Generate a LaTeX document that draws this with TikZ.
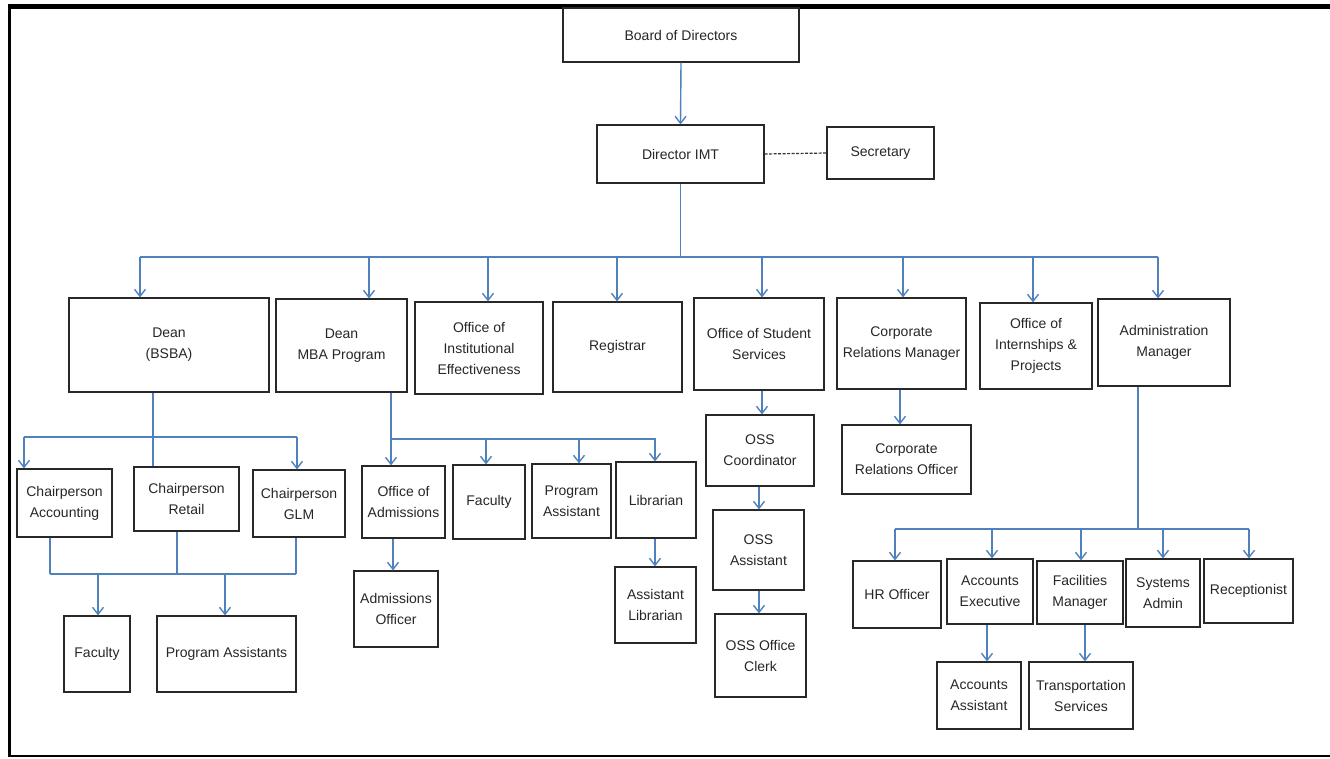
\documentclass[tikz,border=0pt]{standalone}
\usepackage{fontspec}
\setmainfont{Liberation Sans}
\usetikzlibrary{arrows.meta}
\definecolor{conncol}{RGB}{79,129,189}
\definecolor{boxcol}{RGB}{40,40,40}
\tikzset{
  box/.style={draw=boxcol, line width=1.2pt, inner sep=0pt, align=center,
    font=\fontsize{14}{21}\selectfont, text=black!85},
  conn/.style={draw=conncol, line width=1.4pt},
  arr/.style={conn, -{Straight Barb[length=7pt,width=11pt,line width=1.4pt]}},
}
\newcommand\bx[6]{\node[box, minimum width={(#4-#2)*1pt}, minimum height={(#5-#3)*1pt}] (#1) at ({(#2+#4)/2},{(#3+#5)/2}) {#6};}
\begin{document}
\begin{tikzpicture}[x=1pt,y=-1pt]
\useasboundingbox (0,0) rectangle (1330,758);
% frame
\draw[line width=5pt] (8,6.5) -- (1330,6.5);
\draw[line width=3pt] (9.5,6) -- (9.5,756.5);
\draw[line width=2pt] (8,756) -- (1330,756);

% top
\bx{bod}{563}{8}{799}{62}{Board of Directors}
\bx{dir}{597}{125}{764}{183}{Director IMT}
\bx{sec}{827}{127}{934}{179}{Secretary}
\draw[arr] (bod.south) -- (dir.north);
\draw[draw=black!80, line width=1.2pt, dash pattern=on 3pt off 1.5pt] (dir.east) -- (sec.west);

% level 2
\bx{dean1}{69}{298}{269}{392}{Dean\\(BSBA)}
\bx{dean2}{276}{299}{407}{392}{Dean\\MBA Program}
\bx{oie}{415}{302}{543}{394}{Office of\\Institutional\\Effectiveness}
\bx{reg}{553}{302}{682}{392}{Registrar}
\bx{oss}{694}{298}{824}{390}{Office of Student\\Services}
\bx{crm}{837}{298}{966}{389}{Corporate\\Relations Manager}
\bx{oip}{980}{303}{1092}{389}{Office of\\Internships \&\\Projects}
\bx{adm}{1098}{299}{1230}{386}{Administration\\Manager}

\coordinate (dtr) at (dir.south |- 0,257);
\coordinate (bL) at (140,257);
\coordinate (bR) at (1158,257);
\draw[conn] (dir.south) -- (dtr);
\draw[conn] (bL) -- (bR);
\draw[arr] (bL) -- (140,0 |- dean1.north);
\draw[arr] (369,257) -- (369,0 |- dean2.north);
\draw[arr] (488,257) -- (488,0 |- oie.north);
\draw[arr] (617,257) -- (617,0 |- reg.north);
\draw[arr] (762,257) -- (762,0 |- oss.north);
\draw[arr] (903,257) -- (903,0 |- crm.north);
\draw[arr] (1033,257) -- (1033,0 |- oip.north);
\draw[arr] (bR) -- (1158,0 |- adm.north);

% Dean BSBA branch
\bx{ca}{17}{469}{112}{537}{Chairperson\\Accounting}
\bx{cr}{134}{467}{239}{531}{Chairperson\\Retail}
\bx{cg}{253}{470}{345}{537}{Chairperson\\GLM}
\bx{fac1}{64}{616}{130}{692}{Faculty}
\bx{pa}{157}{616}{296}{692}{Program Assistants}
\draw[conn] (153,0 |- dean1.south) -- (153,0 |- cr.north);
\draw[conn] (24,437) -- (297,437);
\draw[arr] (24,437) -- (24,0 |- ca.north);
\draw[arr] (297,437) -- (297,0 |- cg.north);
\draw[conn] (50,0 |- ca.south) -- (50,574);
\draw[conn] (177,0 |- cr.south) -- (177,574);
\draw[conn] (296,0 |- cg.south) -- (296,574);
\draw[conn] (50,574) -- (296,574);
\draw[arr] (98,574) -- (98,0 |- fac1.north);
\draw[arr] (225,574) -- (225,0 |- pa.north);

% Dean MBA branch
\bx{oa}{362}{466}{445}{538}{Office of\\Admissions}
\bx{fac2}{453}{465}{525}{539}{Faculty}
\bx{pa2}{532}{464}{611}{538}{Program\\Assistant}
\bx{lib}{616}{462}{696}{538}{Librarian}
\bx{ao}{354}{571}{438}{647}{Admissions\\Officer}
\bx{al}{615}{567}{696}{643}{Assistant\\Librarian}
\draw[arr] (391,0 |- dean2.south) -- (391,0 |- oa.north);
\draw[conn] (391,439) -- (656,439);
\draw[arr] (486,439) -- (486,0 |- fac2.north);
\draw[arr] (579,439) -- (579,0 |- pa2.north);
\draw[arr] (655,439) -- (655,0 |- lib.north);
\draw[arr] (393,0 |- oa.south) -- (393,0 |- ao.north);
\draw[arr] (655,0 |- lib.south) -- (655,0 |- al.north);

% OSS chain
\bx{ossc}{706}{415}{814}{486}{OSS\\Coordinator}
\bx{ossa}{713}{510}{804}{590}{OSS\\Assistant}
\bx{ossk}{715}{614}{806}{697}{OSS Office\\Clerk}
\draw[arr] (762,0 |- oss.south) -- (762,0 |- ossc.north);
\draw[arr] (759,0 |- ossc.south) -- (759,0 |- ossa.north);
\draw[arr] (759,0 |- ossa.south) -- (759,0 |- ossk.north);

% Corporate relations
\bx{cro}{842}{425}{971}{494}{Corporate\\Relations Officer}
\draw[arr] (900,0 |- crm.south) -- (900,0 |- cro.north);

% Administration
\bx{hr}{853}{561}{941}{628}{HR Officer}
\bx{ae}{947}{559}{1033}{624}{Accounts\\Executive}
\bx{fm}{1037}{561}{1123}{624}{Facilities\\Manager}
\bx{sa}{1126}{559}{1200}{627}{Systems\\Admin}
\bx{rc}{1204}{559}{1293}{623}{Receptionist}
\bx{aa}{937}{662}{1021}{729}{Accounts\\Assistant}
\bx{ts}{1029}{662}{1133}{729}{Transportation\\Services}
\draw[conn] (1138,0 |- adm.south) -- (1138,529);
\draw[conn] (895,529) -- (1249,529);
\draw[arr] (895,529) -- (895,0 |- hr.north);
\draw[arr] (992,529) -- (992,0 |- ae.north);
\draw[arr] (1081,529) -- (1081,0 |- fm.north);
\draw[arr] (1163,529) -- (1163,0 |- sa.north);
\draw[arr] (1249,529) -- (1249,0 |- rc.north);
\draw[arr] (987,0 |- ae.south) -- (987,0 |- aa.north);
\draw[arr] (1085,0 |- fm.south) -- (1085,0 |- ts.north);
\end{tikzpicture}
\end{document}
